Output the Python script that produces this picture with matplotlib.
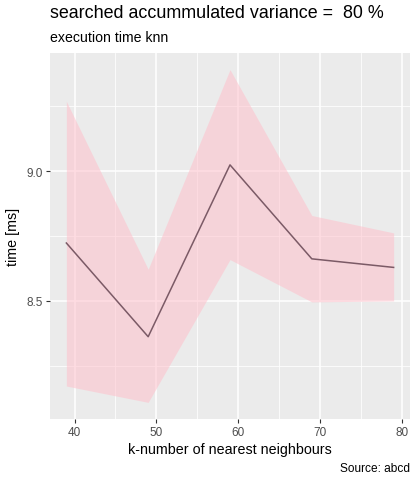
import numpy as np
import matplotlib
matplotlib.use("Agg")
import matplotlib.pyplot as plt

# values
k_values = [39, 49, 59, 69, 79]
time_mean = [8.723, 8.362, 9.024, 8.662, 8.629]
time_upper = [9.269, 8.622, 9.391, 8.829, 8.762]
time_lower = [8.172, 8.109, 8.659, 8.496, 8.500]

x_ticks = [40, 50, 60, 70, 80]
y_ticks = [8.5, 9.0]

plt.rcParams['font.family'] = ['Liberation Sans', 'DejaVu Sans']

fig = plt.figure(figsize=(4.17, 4.85), dpi=100)
# panel spans x 50..410, y 54..420 in pixels
ax = fig.add_axes([50 / 417, 1 - 420 / 485, 360 / 417, 366 / 485])
ax.set_facecolor('#EBEBEB')

ax.fill_between(k_values, time_lower, time_upper, color='pink', alpha=0.55, linewidth=0, zorder=2)
ax.plot(k_values, time_mean, color='#7B5A66', linewidth=1.1, zorder=3)

ax.set_xlim(37, 81)
ax.set_ylim(8.045, 9.455)
ax.set_xticks(x_ticks)
ax.set_yticks(y_ticks)
ax.set_yticklabels(["8.5", "9.0"])
ax.set_xticks([45, 55, 65, 75], minor=True)
ax.set_yticks([8.25, 8.75, 9.25], minor=True)

ax.grid(which='major', color='white', linewidth=1.1, zorder=1)
ax.grid(which='minor', color='white', linewidth=0.55, zorder=1)
ax.set_axisbelow(True)
for s in ax.spines.values():
    s.set_visible(False)
ax.tick_params(which='major', length=3, color='#333333', labelcolor='#4D4D4D', labelsize=8.5, pad=2)
ax.tick_params(which='minor', length=0)

ax.set_xlabel("k-number of nearest neighbours", fontsize=10.3, labelpad=3)
ax.set_ylabel("time [ms]", fontsize=10.3, labelpad=5)

fig.text(50 / 417, 1 - 14 / 485, "searched accummulated variance =  80 %", fontsize=12.9,
         ha='left', va='center')
fig.text(50 / 417, 1 - 38 / 485, "execution time knn", fontsize=10.2, ha='left', va='center')
fig.text(410 / 417, 1 - 469 / 485, "Source: abcd", fontsize=8.6, ha='right', va='center')

fig.savefig("out.png", dpi=100)
